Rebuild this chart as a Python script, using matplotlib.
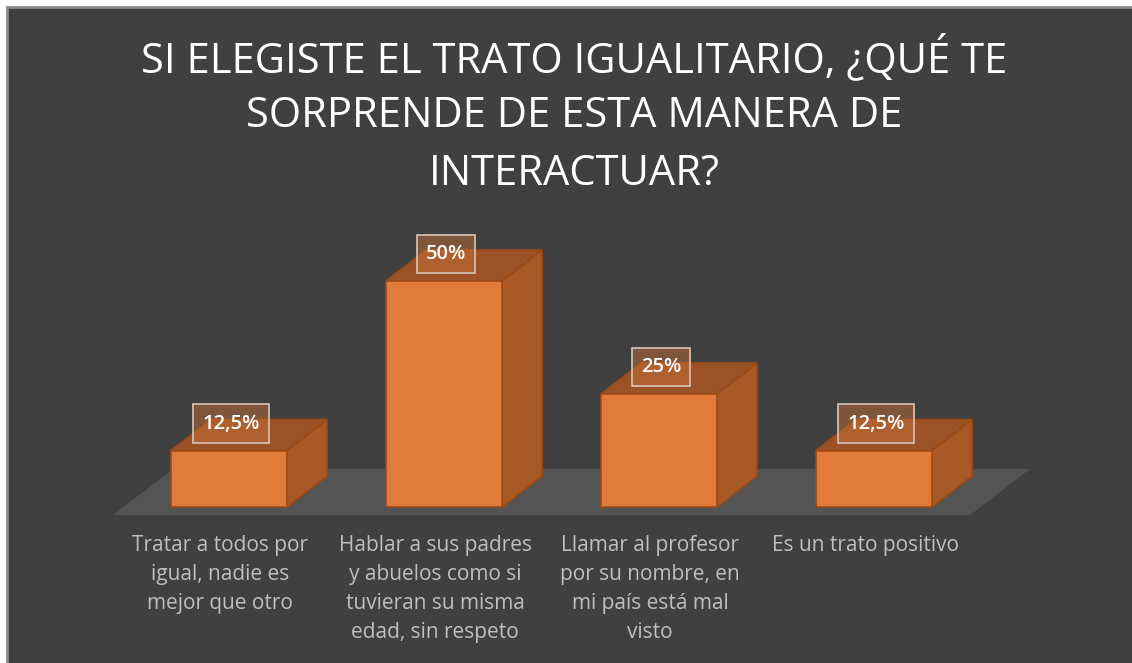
import matplotlib.pyplot as plt
from matplotlib.patches import Rectangle

categories = [
    "Tratar a todos por\nigual, nadie es\nmejor que otro",
    "Hablar a sus padres\ny abuelos como si\ntuvieran su misma\nedad, sin respeto",
    "Llamar al profesor\npor su nombre, en\nmi país está mal\nvisto",
    "Es un trato positivo",
]
values = [12.5, 50, 25, 12.5]
value_labels = ["12,5%", "50%", "25%", "12,5%"]
title_lines = [
    "SI ELEGISTE EL TRATO IGUALITARIO, ¿QUÉ TE",
    "SORPRENDE DE ESTA MANERA DE",
    "INTERACTUAR?",
]

W, H = 1132, 663
bg = "#404040"
front_c = "#E07B39"
side_c = "#A85A26"
top_c = "#9A5226"
edge_c = "#9E4A16"
floor_c = "#555455"

fig = plt.figure(figsize=(W / 100, H / 100), dpi=100)
fig.patch.set_facecolor("white")
# dark panel with thin grey frame (runs off the right and bottom edges)
fig.patches.append(Rectangle((7 / W, -0.05), 1.1, 1.05 - 7 / H, transform=fig.transFigure,
                             facecolor=bg, edgecolor="#8a8a8a", linewidth=2, zorder=-1))

ax = fig.add_axes([0, 0, 1, 1])
ax.set_zorder(1)
ax.set_facecolor("none")
# x: one unit per category (215 px), y: percent (4.52 px per %)
px_x = 215.0
px_y = 4.52
ax.set_xlim(-229 / px_x, (W - 229) / px_x)
ax.set_ylim(-(H - 507) / px_y, 507 / px_y)
ax.axis("off")

bw = 116 / px_x           # bar front width
ddx = 40 / px_x           # depth offset
ddy = 31 / px_y

# floor
fl_front = -8 / px_y
fl_back = 38 / px_y
ax.fill([-0.54, 3.447, 3.726, -0.26], [fl_front, fl_front, fl_back, fl_back],
        color=floor_c, zorder=1, linewidth=0)

for i, v in enumerate(values):
    x0 = i - bw / 2
    x1 = i + bw / 2
    # side
    ax.fill([x1, x1 + ddx, x1 + ddx, x1], [0, ddy, v + ddy, v],
            facecolor=side_c, edgecolor=edge_c, linewidth=1.2, zorder=2)
    # top
    ax.fill([x0, x1, x1 + ddx, x0 + ddx], [v, v, v + ddy, v + ddy],
            facecolor=top_c, edgecolor=edge_c, linewidth=1.2, zorder=2)
    # front
    ax.fill([x0, x1, x1, x0], [0, 0, v, v],
            facecolor=front_c, edgecolor=edge_c, linewidth=1.2, zorder=3)
    ax.text(i + 2 / px_x, v + 27 / px_y, value_labels[i], ha="center", va="center",
            color="white", fontsize=14.5, fontweight="semibold", family="Open Sans", zorder=5,
            bbox=dict(boxstyle="square,pad=0.45", facecolor=(0.80, 0.45, 0.22, 0.45),
                      edgecolor="#d8c6b6", linewidth=1.2))
    ax.text(i - 9 / px_x, -28 / px_y, categories[i], ha="center", va="top",
            color="#bfbfbf", fontsize=15, family="Open Sans", linespacing=1.5, zorder=5)

for k, line in enumerate(title_lines):
    fig.text(574 / W, 1 - (58 + 58 * k) / H, line, ha="center", va="center",
             color="white", fontsize=30, family="Open Sans")

fig.savefig("out.png", dpi=100, facecolor=fig.get_facecolor())
